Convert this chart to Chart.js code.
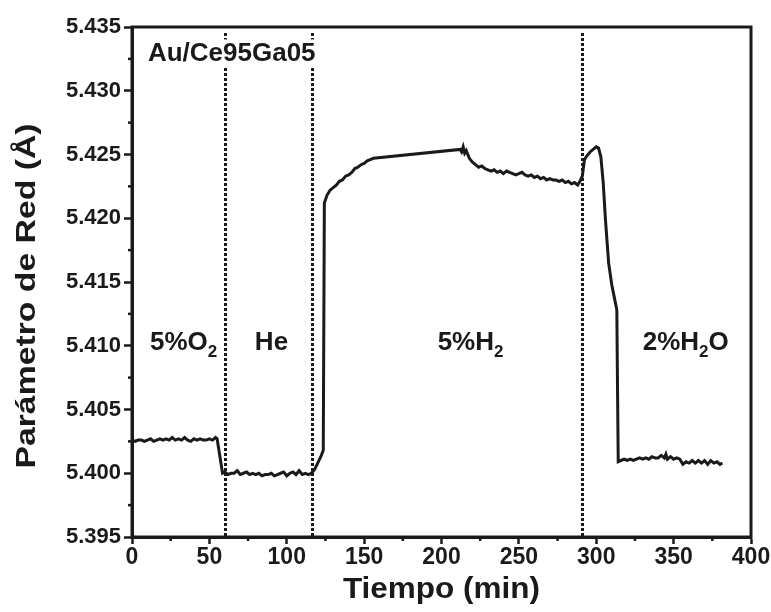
<!DOCTYPE html>
<html lang="es">
<head>
<meta charset="utf-8">
<title>Parámetro de red - Au/Ce95Ga05</title>
<script src="https://cdn.jsdelivr.net/npm/chart.js@4.4.1/dist/chart.umd.min.js"></script>
<style>
    body { margin: 0; background: #fff; }
    #caja { width: 771px; height: 612px; }
</style>
</head>
<body>
<div id="caja"><canvas id="grafico" width="771" height="612"></canvas></div>
<script>
// Tiempo (min) y parámetro de red (Å) medidos
const tiempo = [
    0, 2, 4, 6, 8, 10, 12, 14, 16, 18, 20, 22, 24, 26, 28, 30, 32, 34, 36, 38,
    40, 42, 44, 46, 48, 50, 52, 54, 55, 58.5,
    60, 62, 64, 66, 68, 70, 72, 74, 76, 78, 80, 82, 84, 86, 88, 90, 92, 94, 96, 98,
    100, 102, 104, 106, 108, 110, 112, 114, 116, 118, 120, 122, 123.6,
    124.3, 126, 128, 130, 132, 134, 136, 138, 140, 142, 144, 146, 148, 150, 152, 154, 156,
    212, 213, 214, 215, 216, 218, 220, 222, 224, 226, 228, 230, 232, 234, 236, 238, 240,
    242, 244, 246, 248, 250, 252, 254, 256, 258, 260, 262, 264, 266, 268, 270, 272, 274,
    276, 278, 280, 282, 284, 286, 288, 289.5, 291, 292.4, 294, 296, 298, 300, 301.5, 303,
    304.5, 306, 308, 310, 312, 313.3, 313.8, 314.2,
    316, 318, 320, 322, 324, 326, 328, 330, 332, 334, 336, 338, 340, 342, 344, 345, 346,
    348, 350, 352, 354, 356, 358, 360, 362, 364, 366, 368, 370, 372, 374, 376, 378, 380, 381.5
];
const parametro = [
    5.4026, 5.4025, 5.4026, 5.4026, 5.4025, 5.4026, 5.4027, 5.4025, 5.4026, 5.4027,
    5.4026, 5.4027, 5.4026, 5.4028, 5.4026, 5.4027, 5.4026, 5.4028, 5.4026, 5.4025,
    5.4027, 5.4026, 5.4027, 5.4026, 5.4026, 5.4027, 5.4026, 5.4028, 5.4027, 5.4000,
    5.4001, 5.3999, 5.4000, 5.4000, 5.4002, 5.3999, 5.4000, 5.4001, 5.3999, 5.4000,
    5.3999, 5.4000, 5.3998, 5.3999, 5.3999, 5.4000, 5.3998, 5.3999, 5.4000, 5.4001,
    5.3998, 5.4000, 5.4001, 5.3999, 5.4002, 5.3999, 5.4000, 5.3999, 5.4000, 5.4003,
    5.4008, 5.4013, 5.4018,
    5.4212, 5.4218, 5.4222, 5.4224, 5.4226, 5.4229, 5.4230, 5.4233, 5.4234, 5.4236,
    5.4239, 5.4240, 5.4242, 5.4243, 5.4245, 5.4246, 5.4247,
    5.4254, 5.4252, 5.4256, 5.4251, 5.4253, 5.4247, 5.4244, 5.4242, 5.4240, 5.4241,
    5.4239, 5.4238, 5.4237, 5.4238, 5.4236, 5.4237, 5.4235,
    5.4237, 5.4236, 5.4235, 5.4234, 5.4235, 5.4236, 5.4234, 5.4233, 5.4234, 5.4232,
    5.4233, 5.4231, 5.4232, 5.4230, 5.4231, 5.4230, 5.4230,
    5.4229, 5.4230, 5.4228, 5.4229, 5.4227, 5.4228, 5.4226, 5.4229, 5.4233, 5.4246,
    5.4249, 5.4252, 5.4254, 5.4256, 5.4255, 5.4248,
    5.4228, 5.4198, 5.4165, 5.4148, 5.4136, 5.4128, 5.4060, 5.4009,
    5.4010, 5.4011, 5.4010, 5.4011, 5.4010, 5.4011, 5.4012, 5.4011, 5.4012, 5.4011,
    5.4013, 5.4012, 5.4012, 5.4014, 5.4012, 5.4015, 5.4011,
    5.4013, 5.4011, 5.4012, 5.4011, 5.4007, 5.4009, 5.4008, 5.4010, 5.4008, 5.4010,
    5.4008, 5.4010, 5.4007, 5.4010, 5.4008, 5.4009, 5.4007, 5.4008
];

// cambios de atmósfera (líneas punteadas)
const divisiones = [60, 116.5, 290.5];

// etiquetas de cada atmósfera ("_" = siguiente carácter en subíndice)
const gases = ['5%O_2', 'He', '5%H_2', '2%H_2O'];
const gasesX = [11.6, 79.4, 197.5, 330];
const gasesY = 5.4097;

const muestra = 'Au/Ce95Ga05';
const muestraX = 10.3;
const muestraY = 5.4323;

const ejeX = { min: 0, max: 400, paso: 50 };
const ejeY = { min: 5.395, max: 5.435, paso: 0.005 };

const negro = '#1a1a1a';
const fuente = '"Liberation Sans", Arial, sans-serif';

// texto con subíndices, alineado a la izquierda
function textoQuimico(ctx, texto, x, y, tam) {
    let i = 0;
    while (i < texto.length) {
        let sub = false;
        if (texto[i] === '_') { sub = true; i++; }
        const c = texto[i];
        ctx.font = 'bold ' + (sub ? Math.round(tam * 0.65) : tam) + 'px ' + fuente;
        ctx.fillText(c, x, sub ? y + 7 : y);
        x += ctx.measureText(c).width;
        i++;
    }
}

const decoracion = {
    id: 'decoracion',
    beforeDatasetsDraw(chart) {
        const { ctx, chartArea: a, scales: { x } } = chart;
        ctx.save();
        ctx.strokeStyle = negro;
        ctx.lineWidth = 3;
        ctx.setLineDash([3, 2]);
        divisiones.forEach(t => {
            const px = Math.round(x.getPixelForValue(t)) + 0.5;
            ctx.beginPath();
            ctx.moveTo(px, a.top + 6);
            ctx.lineTo(px, a.bottom);
            ctx.stroke();
        });
        ctx.restore();
    },
    afterDraw(chart) {
        const { ctx, chartArea: a, scales: { x, y } } = chart;
        ctx.save();
        ctx.strokeStyle = negro;
        ctx.fillStyle = negro;

        // marcas menores
        ctx.lineWidth = 2.5;
        for (let i = 0; i < x.ticks.length - 1; i++) {
            const px = x.getPixelForValue((x.ticks[i].value + x.ticks[i + 1].value) / 2);
            ctx.beginPath(); ctx.moveTo(px, a.bottom); ctx.lineTo(px, a.bottom + 4); ctx.stroke();
        }
        for (let i = 0; i < y.ticks.length - 1; i++) {
            const py = y.getPixelForValue((y.ticks[i].value + y.ticks[i + 1].value) / 2);
            ctx.beginPath(); ctx.moveTo(a.left - 4, py); ctx.lineTo(a.left, py); ctx.stroke();
        }

        // marco
        ctx.lineWidth = 3;
        ctx.strokeRect(a.left, a.top, a.right - a.left, a.bottom - a.top);

        // nombre de la muestra sobre fondo blanco
        ctx.font = 'bold 26px ' + fuente;
        ctx.textAlign = 'left';
        ctx.textBaseline = 'alphabetic';
        const mx = x.getPixelForValue(muestraX);
        const my = y.getPixelForValue(muestraY);
        const w = ctx.measureText(muestra).width;
        ctx.fillStyle = '#fff';
        ctx.fillRect(mx - 2, my - 22, w + 4, 28);
        ctx.fillStyle = negro;
        ctx.fillText(muestra, mx, my);

        // atmósferas
        gases.forEach((g, i) => {
            textoQuimico(ctx, g, x.getPixelForValue(gasesX[i]), y.getPixelForValue(gasesY), 26);
        });

        // títulos de los ejes
        ctx.textAlign = 'center';
        ctx.font = 'bold 30px ' + fuente;
        ctx.save();
        ctx.translate((a.left + a.right) / 2, a.bottom + 61);
        ctx.scale(1.05, 1);
        ctx.fillText('Tiempo (min)', 0, 0);
        ctx.restore();

        ctx.font = 'bold 27px ' + fuente;
        ctx.save();
        ctx.translate(a.left - 97, (a.top + a.bottom) / 2 + 14);
        ctx.rotate(-Math.PI / 2);
        ctx.scale(1.25, 1);
        ctx.fillText('Parámetro de Red (Å)', 0, 0);
        ctx.restore();

        ctx.restore();
    }
};

const puntos = tiempo.map((t, i) => ({ x: t, y: parametro[i] }));

new Chart(document.getElementById('grafico'), {
    type: 'line',
    data: {
        datasets: [{
            data: puntos,
            borderColor: negro,
            borderWidth: 3,
            pointRadius: 0,
            tension: 0,
            fill: false
        }]
    },
    options: {
        responsive: false,
        animation: false,
        layout: { padding: { left: 0, right: 20, top: 27, bottom: 0 } },
        plugins: { legend: { display: false }, tooltip: { enabled: false } },
        scales: {
            x: {
                type: 'linear',
                min: ejeX.min,
                max: ejeX.max,
                afterFit: s => { s.height = 75; },
                border: { display: true, width: 3, color: negro },
                grid: { display: true, drawOnChartArea: false, drawTicks: true, tickLength: 7, tickWidth: 2.5, tickColor: negro },
                ticks: { stepSize: ejeX.paso, color: negro, padding: 0, maxRotation: 0, font: { family: fuente, size: 23, weight: 'bold' } }
            },
            y: {
                type: 'linear',
                min: ejeY.min,
                max: ejeY.max,
                afterFit: s => { s.width = 132; },
                border: { display: true, width: 3, color: negro },
                grid: { display: true, drawOnChartArea: false, drawTicks: true, tickLength: 8, tickWidth: 2.5, tickColor: negro },
                ticks: {
                    stepSize: ejeY.paso,
                    color: negro,
                    padding: 3,
                    font: { family: fuente, size: 22, weight: 'bold' },
                    callback: v => v.toFixed(3)
                }
            }
        }
    },
    plugins: [decoracion]
});
</script>
</body>
</html>
